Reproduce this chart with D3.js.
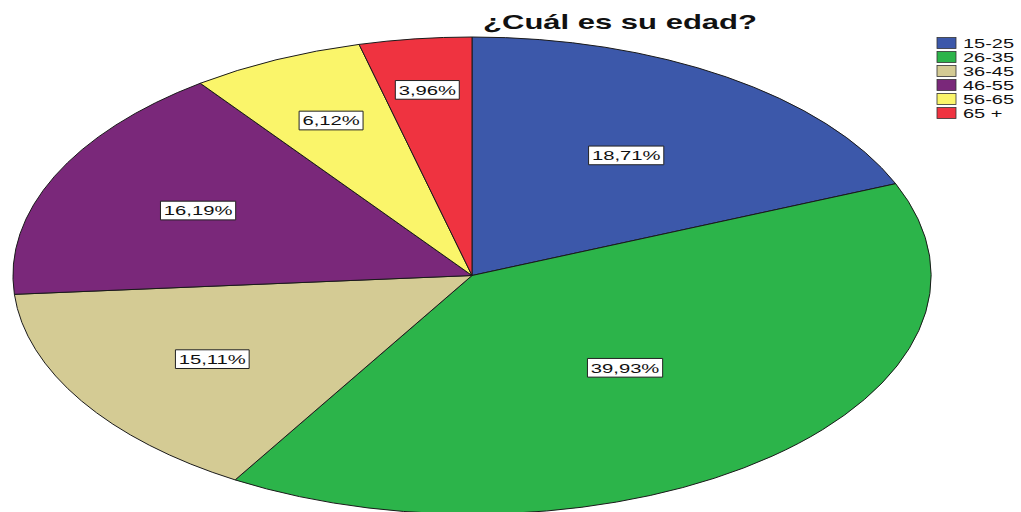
<!DOCTYPE html>
<html><head><meta charset="utf-8">
<script src="https://cdn.jsdelivr.net/npm/d3@7"></script>
<style>html,body{margin:0;padding:0;background:#fff;overflow:hidden}</style>
</head><body>
<svg id="c" width="1021" height="512"></svg>
<script>
const title = "¿Cuál es su edad?";
const categories = ["15-25", "26-35", "36-45", "46-55", "56-65", "65 +"];
const values = [18.71, 39.93, 15.11, 16.19, 6.12, 3.96];
const labels = ["18,71%", "39,93%", "15,11%", "16,19%", "6,12%", "3,96%"];
const colors = ["#3C58AA", "#2CB44A", "#D4CB94", "#7A287A", "#FAF56A", "#EF3340"];

const W = 1021, H = 512;
const cx = 472, cy = 275.5, rx = 459, ry = 238.5;
const stretch = 1.5;
const svg = d3.select("#c");

const pie = d3.pie().sort(null).value(d => d)(values);
const arc = d3.arc().innerRadius(0).outerRadius(1);

const g = svg.append("g").attr("transform", `translate(${cx},${cy}) scale(${rx},${ry})`);
g.selectAll("path").data(pie).join("path")
  .attr("d", arc)
  .attr("fill", (d, i) => colors[i])
  .attr("stroke", "#1a1a1a")
  .attr("stroke-width", 1)
  .attr("vector-effect", "non-scaling-stroke");

// label radius depends on slice size (larger slices -> labels nearer centre)
const total = d3.sum(values);
const labR = d3.scaleLinear().domain([4, 6, 16, 19, 40]).range([0.785, 0.72, 0.66, 0.60, 0.51]).clamp(true);

const lg = svg.append("g");
pie.forEach((d, i) => {
  const a = (d.startAngle + d.endAngle) / 2;
  const p = d.data / total * 100;
  const r = labR(p);
  const x = cx + Math.sin(a) * r * rx;
  const y = cy - Math.cos(a) * r * ry;
  const gg = lg.append("g").attr("transform", `translate(${x},${y}) scale(${stretch},1)`);
  const t = gg.append("text")
    .attr("text-anchor", "middle").attr("dy", "0.36em")
    .attr("font-family", "Liberation Sans, Arial, sans-serif")
    .attr("font-size", 13.5).attr("fill", "#111")
    .text(labels[i]);
  const bb = t.node().getBBox();
  gg.insert("rect", "text")
    .attr("x", bb.x - 2.2).attr("y", bb.y - 1.5)
    .attr("width", bb.width + 4.4).attr("height", bb.height + 3)
    .attr("fill", "#fff").attr("stroke", "#222").attr("stroke-width", 1)
    .attr("vector-effect", "non-scaling-stroke");
});

svg.append("text")
  .attr("transform", `translate(620,29) scale(1.55,1)`)
  .attr("text-anchor", "middle")
  .attr("font-family", "Liberation Sans, Arial, sans-serif")
  .attr("font-weight", "bold").attr("font-size", 20).attr("fill", "#111")
  .text(title);

const leg = svg.append("g");
const legY = d3.scaleBand().domain(categories).range([36, 120]);
categories.forEach((c, i) => {
  const y = legY(c) + legY.bandwidth() / 2;
  leg.append("rect").attr("x", 937).attr("y", y - 5.5).attr("width", 19).attr("height", 11)
    .attr("fill", colors[i]).attr("stroke", "#333").attr("stroke-width", 0.8);
  leg.append("text")
    .attr("transform", `translate(963,${y}) scale(1.6,1)`)
    .attr("dy", "0.36em")
    .attr("font-family", "Liberation Sans, Arial, sans-serif")
    .attr("font-size", 12.5).attr("fill", "#111")
    .text(c);
});
</script>
</body></html>
